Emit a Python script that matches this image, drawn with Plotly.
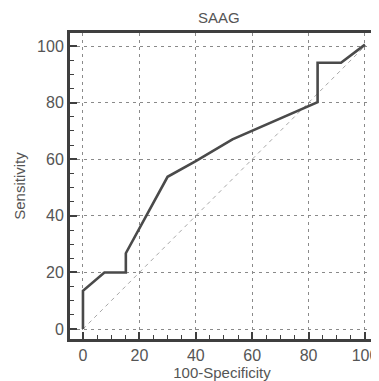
import plotly.graph_objects as go

fpr = [0, 0, 7.6, 15.2, 15.2, 30, 40, 53, 83.2, 83.2, 91.5, 100]
tpr = [0, 13.5, 20, 20, 26.8, 53.8, 59.3, 67, 80.2, 94.1, 94.1, 100.5]
ref_x = [0, 100]
ref_y = [0, 100]
ticks = [0, 20, 40, 60, 80, 100]

fig = go.Figure()
fig.add_trace(go.Scatter(x=ref_x, y=ref_y, mode="lines",
                         line=dict(color="#a8a8a8", width=1, dash="4px,4px"),
                         hoverinfo="skip", showlegend=False))
fig.add_trace(go.Scatter(x=fpr, y=tpr, mode="lines",
                         line=dict(color="#4a4a4a", width=2.6),
                         showlegend=False))

axis_common = dict(
    showline=True, linecolor="#3f3f3f", linewidth=3, mirror=True,
    ticks="inside", ticklen=7, tickwidth=1.5, tickcolor="#3f3f3f",
    tickvals=ticks, showgrid=True, gridcolor="#8a8a8a", gridwidth=1,
    griddash="3px,4px", zeroline=False,
    minor=dict(ticks="inside", ticklen=4, tickwidth=1.2, tickcolor="#3f3f3f",
               dtick=5, showgrid=False),
    tickfont=dict(family="Liberation Sans, Arial", size=16, color="#555555"),
    title_font=dict(family="Liberation Sans, Arial", size=15, color="#555555"),
)

fig.update_layout(
    width=371, height=373,
    margin=dict(l=62, r=2, t=25, b=42),
    paper_bgcolor="white", plot_bgcolor="white",
    title=dict(text="SAAG", xref="paper", x=0.49, xanchor="center",
               yref="container", y=0.973, yanchor="middle",
               font=dict(family="Liberation Sans, Arial", size=15, color="#555555")),
    xaxis=dict(range=[-4.6, 103.2], title=dict(text="100-Specificity", standoff=2),
               **axis_common),
    yaxis=dict(range=[-3.5, 104.6], title=dict(text="Sensitivity", standoff=8),
               **axis_common),
)

fig.write_html("out.html")
